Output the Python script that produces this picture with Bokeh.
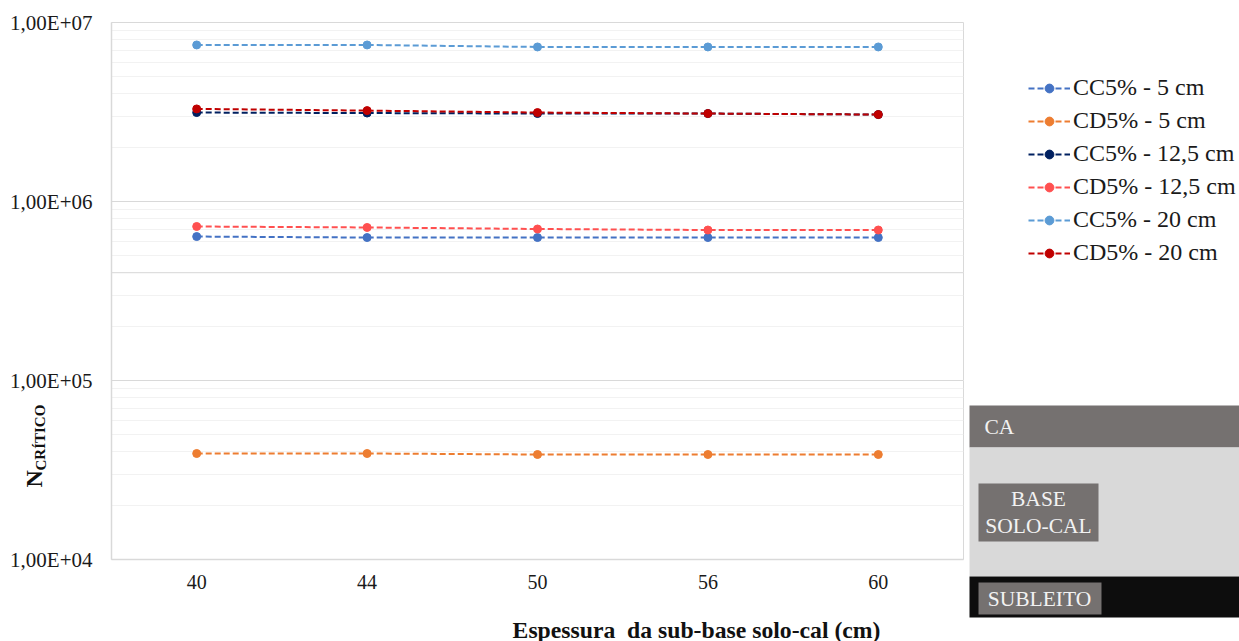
from bokeh.plotting import figure
from bokeh.models import FactorRange, LogTicker, Span, Legend, LegendItem, Range1d
from bokeh.core.properties import value
from bokeh.embed import file_html
from bokeh.resources import INLINE

thickness = ["40", "44", "50", "56", "60"]
cc5_5 = [6.37e5, 6.29e5, 6.29e5, 6.29e5, 6.29e5]
cd5_5 = [3.91e4, 3.91e4, 3.86e4, 3.86e4, 3.86e4]
cc5_12 = [3.14e6, 3.12e6, 3.10e6, 3.10e6, 3.06e6]
cd5_12 = [7.25e5, 7.16e5, 7.02e5, 6.93e5, 6.93e5]
cc5_20 = [7.49e6, 7.49e6, 7.30e6, 7.30e6, 7.30e6]
cd5_20 = [3.29e6, 3.22e6, 3.14e6, 3.10e6, 3.06e6]

series = [
    ("CC5% - 5 cm", cc5_5, "#4472C4"),
    ("CD5% - 5 cm", cd5_5, "#ED7D31"),
    ("CC5% - 12,5 cm", cc5_12, "#002060"),
    ("CD5% - 12,5 cm", cd5_12, "#FF5050"),
    ("CC5% - 20 cm", cc5_20, "#5B9BD5"),
    ("CD5% - 20 cm", cd5_20, "#C00000"),
]
y_labels = {1e4: "1,00E+04", 1e5: "1,00E+05", 1e6: "1,00E+06", 1e7: "1,00E+07"}

SERIF = "Liberation Serif"
W, H = 1239, 641
FL, FR, FT, FB = 111, 963, 22, 559

p = figure(width=W, height=H, output_backend="svg", toolbar_location=None,
           x_range=FactorRange(factors=thickness, range_padding=0), y_axis_type="log",
           y_range=Range1d(1e4, 1e7),
           min_border_left=FL, min_border_right=W - FR,
           min_border_top=FT, min_border_bottom=H - FB)
p.outline_line_color = "#d9d9d9"
p.outline_line_width = 1

p.xgrid.grid_line_color = None
p.ygrid.grid_line_color = "#d9d9d9"
p.ygrid.minor_grid_line_color = "#f2f2f2"
p.ygrid.ticker = LogTicker(num_minor_ticks=10)

ya = p.yaxis[0]
ya.ticker = LogTicker(num_minor_ticks=10)
ya.major_label_overrides = y_labels
ya.major_label_text_font = SERIF
ya.major_label_text_font_size = "21px"
ya.major_label_text_color = "#1a1a1a"
ya.major_tick_line_color = None
ya.minor_tick_line_color = None
ya.major_label_standoff = 13
ya.axis_line_color = "#d9d9d9"
ya.axis_line_width = 1.5

xa = p.xaxis[0]
xa.major_label_text_font = SERIF
xa.major_label_text_font_size = "20px"
xa.major_label_text_color = "#1a1a1a"
xa.major_tick_line_color = None
xa.minor_tick_line_color = None
xa.major_label_standoff = 9
xa.axis_line_color = "#d9d9d9"
xa.axis_line_width = 1.5

p.add_layout(Span(location=4e5, dimension="width", line_color="#d9d9d9", line_width=1))

for name, vals, col in series:
    p.line(thickness, vals, line_color=col, line_width=2, line_dash="6 3")
    p.scatter(thickness, vals, size=8, fill_color=col, line_color=col)

# Transparent overlay on a page-pixel scale: outer labels, legend, pavement diagram
q = figure(width=W, height=H, output_backend="svg", toolbar_location=None,
           x_range=Range1d(0, W), y_range=Range1d(H, 0),
           min_border_left=0, min_border_right=0, min_border_top=0, min_border_bottom=0,
           background_fill_alpha=0, border_fill_alpha=0,
           styles={"position": "absolute", "left": "0px", "top": "0px"})
q.axis.visible = False
q.grid.visible = False
q.outline_line_color = None

GREY, LIGHT, BLACK, PALE = "#757170", "#d9d9d9", "#0d0d0d", "#f2f2f2"
q.quad(left=[969, 969, 969, 978, 978], right=[1239, 1239, 1239, 1098, 1101],
       top=[405, 447, 576, 483, 582], bottom=[447, 576, 617, 541, 614],
       fill_color=[GREY, LIGHT, BLACK, GREY, GREY], line_color=None)
q.text(x=[984, 1038, 1038, 1039], y=[426, 498, 525, 598],
       text=["CA", "BASE", "SOLO-CAL", "SUBLEITO"],
       text_font=value(SERIF), text_font_size="21.5px", text_color=PALE,
       text_align=["left", "center", "center", "center"], text_baseline="middle")
q.text(x=[696], y=[629], text=["Espessura\u00a0 da sub-base solo-cal (cm)"],
       text_font=value(SERIF), text_font_size="23.7px", text_font_style="bold", text_color="#111111",
       text_align="center", text_baseline="middle")
q.text(x=[33, 40], y=[487, 470], text=["N", "CRÍTICO"], angle=[1.5708, 1.5708],
       text_font=value(SERIF), text_font_size=["24px", "15px"], text_font_style="bold",
       text_color="#111111", text_align="left", text_baseline="alphabetic")

items = []
for name, vals, col in series:
    # off-page stubs: these renderers exist only to supply the legend's swatches
    r1 = q.line([-60, -50], [-60, -60], line_color=col, line_width=2, line_dash="6 3")
    r2 = q.scatter([-60], [-60], size=8, fill_color=col, line_color=col)
    items.append(LegendItem(label=name, renderers=[r1, r2]))
legend = Legend(items=items, location=(1028, H - 266), orientation="vertical",
                label_text_font=SERIF, label_text_font_size="24px", label_text_color="#1a1a1a",
                glyph_width=42, glyph_height=22, label_standoff=3, spacing=6, padding=6, margin=0,
                background_fill_alpha=0, border_line_color=None, label_height=22)
q.add_layout(legend, "center")

open("out.html", "w").write(file_html([p, q], INLINE))
